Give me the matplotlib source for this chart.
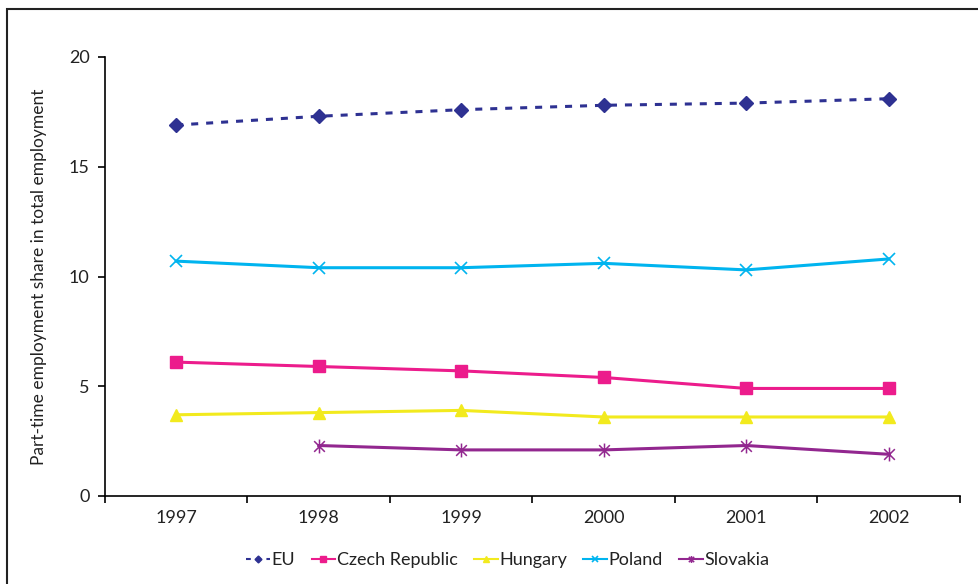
import matplotlib
matplotlib.use('Agg')
import matplotlib.pyplot as plt
from matplotlib.path import Path
from matplotlib.patches import Rectangle
import numpy as np

plt.rcParams['font.family'] = ['Lato', 'DejaVu Sans']

years = ['1997', '1998', '1999', '2000', '2001', '2002']
eu = [16.9, 17.3, 17.6, 17.8, 17.9, 18.1]
czech = [6.1, 5.9, 5.7, 5.4, 4.9, 4.9]
hungary = [3.7, 3.8, 3.9, 3.6, 3.6, 3.6]
poland = [10.7, 10.4, 10.4, 10.6, 10.3, 10.8]
slovakia = [np.nan, 2.3, 2.1, 2.1, 2.3, 1.9]

# asterisk marker like the Excel star: x with a vertical bar
star = Path([(-1, -1), (1, 1), (-1, 1), (1, -1), (0, -1.3), (0, 1.3)],
            [Path.MOVETO, Path.LINETO, Path.MOVETO, Path.LINETO, Path.MOVETO, Path.LINETO])

fig = plt.figure(figsize=(9.79, 5.84), dpi=100)
ax = fig.add_axes([105 / 979, 1 - 496 / 584, 855 / 979, 439 / 584])

x = np.arange(len(years))
ax.plot(x, eu, color='#2E3192', lw=2.2, ls=(0, (2.3, 2.6)), marker='D', ms=7, label='EU')
ax.plot(x, czech, color='#EC1C8C', lw=2.2, marker='s', ms=8, label='Czech Republic')
ax.plot(x, hungary, color='#F2EA1E', lw=2.2, marker='^', ms=9, label='Hungary')
ax.plot(x, poland, color='#00B4EF', lw=2.2, marker='x', ms=9, mew=1.2, label='Poland')
ax.plot(x, slovakia, color='#92278F', lw=2.2, marker=star, ms=10, mew=1.1, label='Slovakia')

ax.set_xlim(-0.5, len(years) - 0.5)
ax.set_ylim(0, 20)
ax.set_yticks([0, 5, 10, 15, 20])
ax.set_xticks(x)
ax.set_xticklabels(years)
ax.set_xticks(np.arange(len(years) + 1) - 0.5, minor=True)
ax.tick_params(axis='x', which='major', length=0, pad=10, labelsize=13)
ax.tick_params(axis='x', which='minor', length=5, width=1.2, direction='out')
ax.tick_params(axis='y', length=5, width=1.2, direction='out', pad=6, labelsize=13)
ax.tick_params(colors='black', which='both', labelcolor='#222222')

for s in ['top', 'right']:
    ax.spines[s].set_visible(False)
for s in ['left', 'bottom']:
    ax.spines[s].set_linewidth(1.2)

ax.set_ylabel('Part-time employment share in total employment', fontsize=12.5, labelpad=16, color='#222222')

leg = ax.legend(loc='center', bbox_to_anchor=(508 / 979, 1 - 560 / 584), bbox_transform=fig.transFigure,
                ncol=5, frameon=False, fontsize=13, handlelength=1.3, handletextpad=0.1,
                columnspacing=0.9, markerscale=0.5)
for t in leg.get_texts():
    t.set_color('#222222')
for h in leg.get_lines():
    h.set_linewidth(1.5)

fig.patches.append(Rectangle((7 / 979, -0.05), 1.1, 1 - 9 / 584 + 0.05, transform=fig.transFigure,
                             fill=False, edgecolor='#222222', lw=1.5))

fig.savefig('out.png', dpi=100)
